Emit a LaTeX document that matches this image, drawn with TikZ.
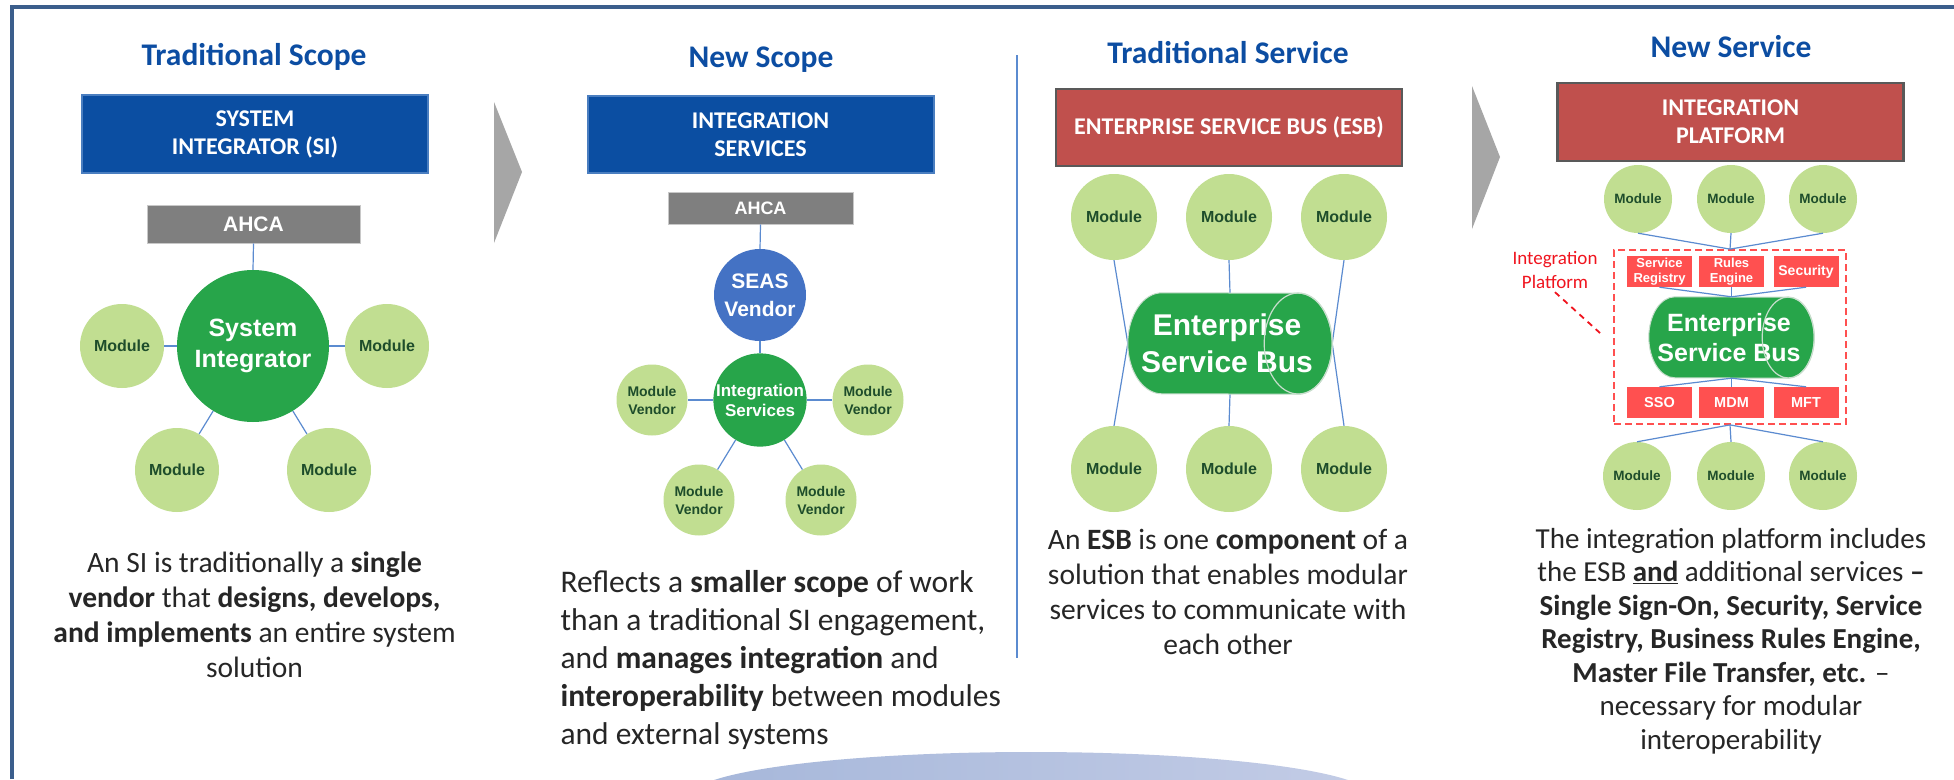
\documentclass[tikz,border=0pt]{standalone}
\usepackage{fontspec}
\setmainfont{Carlito}
\newfontfamily\arialfont{Liberation Sans}
\usepackage{xcolor}
\usepackage{tikz}
\usetikzlibrary{shapes,arrows,positioning,calc,arrows.meta}

\definecolor{framecol}{RGB}{59,94,140}
\definecolor{titleblue}{RGB}{12,77,162}
\definecolor{scopeblue}{RGB}{11,78,162}
\definecolor{scopeedge}{RGB}{74,126,192}
\definecolor{ahcagray}{RGB}{127,127,127}
\definecolor{ahcaedge}{RGB}{200,200,200}
\definecolor{hubgreen}{RGB}{39,165,74}
\definecolor{modgreen}{RGB}{193,222,145}
\definecolor{modtext}{RGB}{30,77,43}
\definecolor{seasblue}{RGB}{68,114,196}
\definecolor{esbred}{RGB}{192,80,77}
\definecolor{esbedge}{RGB}{89,89,89}
\definecolor{ipred}{RGB}{255,80,80}
\definecolor{labelred}{RGB}{240,20,30}
\definecolor{linkblue}{RGB}{91,139,208}
\definecolor{busedge}{RGB}{200,222,205}
\definecolor{desctext}{RGB}{38,38,38}
\definecolor{chevron}{RGB}{166,166,166}
\definecolor{arcleft}{RGB}{166,183,218}
\definecolor{arcright}{RGB}{195,204,230}

\begin{document}
\begin{tikzpicture}[x=1pt,y=-1pt,
    title/.style={font=\fontsize{31.5}{36}\selectfont\bfseries, text=titleblue},
    bluehead/.style={fill=scopeblue, draw=scopeedge, line width=2pt, text=white, align=center,
        font=\fontsize{24}{28}\selectfont\bfseries, minimum width=346pt, minimum height=78pt, inner sep=0pt},
    redhead/.style={bluehead, fill=esbred, draw=esbedge, line width=2.5pt},
    ahca/.style={fill=ahcagray, draw=ahcaedge, line width=1pt, text=white, inner sep=0pt,
        font=\arialfont\bfseries\fontsize{21}{24}\selectfont, minimum width=213pt, minimum height=38pt},
    module/.style={circle, fill=modgreen, text=modtext, align=center, inner sep=0pt,
        font=\arialfont\bfseries\fontsize{16}{18}\selectfont, minimum size=84pt},
    hub/.style={circle, fill=hubgreen, text=white, align=center, inner sep=0pt},
    busspot/.style={rectangle, inner sep=0pt},
    busbody/.style={fill=hubgreen, draw=busedge, line width=1pt},
    busend/.style={draw=busedge, line width=1.2pt},
    bustext/.style={text=white, align=center, font=\arialfont\bfseries\fontsize{30}{37}\selectfont},
    ipbox/.style={fill=ipred, text=white, align=center, inner sep=0pt,
        font=\arialfont\bfseries\fontsize{13}{15}\selectfont, minimum width=65pt, minimum height=31pt},
    link/.style={draw=linkblue, line width=1.2pt},
    desc/.style={text=desctext, align=center, font=\fontsize{29.5}{35}\selectfont}]

    \useasboundingbox (0,0) rectangle (1954,779);
    \fill[white] (0,0) rectangle (1954,779);

    % Arc at the bottom
    \begin{scope}
        \clip (0,0) rectangle (1954,779);
        \shade[left color=arcleft, right color=arcright] (1031,796) ellipse (340 and 44);
    \end{scope}

    % Frame
    \draw[framecol, line width=4.5pt] (12,779) -- (12,7) -- (1954,7);

    % Traditional Scope
    \node[title] (tstitle) at (254,57) {Traditional Scope};
    \node[bluehead] (sihead) at (255,134) {SYSTEM\\INTEGRATOR (SI)};
    \node[ahca] (ahcaA) at (253.5,224) {AHCA};
    \node[hub, minimum size=152pt, font=\arialfont\bfseries\fontsize{25}{31}\selectfont] (si) at (253,346) {System\\Integrator};
    \node[module] (simodW) at (122,346) {Module};
    \node[module] (simodE) at (387,346) {Module};
    \node[module] (simodSW) at (177,470) {Module};
    \node[module] (simodSE) at (329,470) {Module};
    \draw[link] (ahcaA.south) -- (si.north);
    \draw[link] (si) -- (simodW);
    \draw[link] (si) -- (simodE);
    \draw[link] (si) -- (simodSW);
    \draw[link] (si) -- (simodSE);
    \node[desc] (sidesc) at (254.5,615) {An SI is traditionally a \textbf{single}\\
        \textbf{vendor} that \textbf{designs, develops,}\\
        \textbf{and implements} an entire system\\
        solution};

    % Chevrons
    \fill[chevron] (494,102) -- (522,172) -- (494,243) -- cycle;
    \fill[chevron] (1472,86) -- (1500,157) -- (1472,229) -- cycle;

    % New Scope
    \node[title] (nstitle) at (761,60) {New Scope};
    \node[bluehead, minimum height=77pt] (ishead) at (760.5,134.5) {INTEGRATION\\SERVICES};
    \node[ahca, minimum width=185pt, minimum height=32pt, font=\arialfont\bfseries\fontsize{18}{20}\selectfont] (ahcaB) at (760.5,208) {AHCA};
    \node[hub, fill=seasblue, minimum size=92pt, font=\arialfont\bfseries\fontsize{21}{28}\selectfont] (seas) at (760,295) {SEAS\\Vendor};
    \node[hub, minimum size=92pt, font=\arialfont\bfseries\fontsize{17}{20}\selectfont] (intsvc) at (760,400) {Integration\\Services};
    \node[module, minimum size=71pt, font=\arialfont\bfseries\fontsize{14}{18}\selectfont] (mvW) at (652,400) {Module\\Vendor};
    \node[module, minimum size=71pt, font=\arialfont\bfseries\fontsize{14}{18}\selectfont] (mvE) at (868,400) {Module\\Vendor};
    \node[module, minimum size=71pt, font=\arialfont\bfseries\fontsize{14}{18}\selectfont] (mvSW) at (699,500) {Module\\Vendor};
    \node[module, minimum size=71pt, font=\arialfont\bfseries\fontsize{14}{18}\selectfont] (mvSE) at (821,500) {Module\\Vendor};
    \draw[link] (ahcaB.south) -- (seas.north);
    \draw[link] (seas.south) -- (intsvc.north);
    \draw[link] (intsvc) -- (mvW);
    \draw[link] (intsvc) -- (mvE);
    \draw[link] (intsvc) -- (mvSW);
    \draw[link] (intsvc) -- (mvSE);
    \node[desc, align=left, anchor=west, font=\fontsize{31.5}{38}\selectfont] (isdesc) at (557,660)
        {Reflects a \textbf{smaller scope} of work\\
        than a traditional SI engagement,\\
        and \textbf{manages integration} and\\
        \textbf{interoperability} between modules\\
        and external systems};

    % Separator
    \draw[linkblue, line width=2.5pt] (1017,55) -- (1017,658);

    % Traditional Service
    \node[title] (tvtitle) at (1228,53) {Traditional Service};
    \node[redhead, minimum height=77pt] (esbhead) at (1229,127.5) {ENTERPRISE SERVICE BUS (ESB)};
    \node[module, minimum size=86pt] (tmodA) at (1114,217) {Module};
    \node[module, minimum size=86pt] (tmodB) at (1229,217) {Module};
    \node[module, minimum size=86pt] (tmodC) at (1344,217) {Module};
    \node[module, minimum size=86pt] (bmodA) at (1114,469) {Module};
    \node[module, minimum size=86pt] (bmodB) at (1229,469) {Module};
    \node[module, minimum size=86pt] (bmodC) at (1344,469) {Module};
    \node[busspot, minimum width=204pt, minimum height=101pt] (esb) at (1230,343.5) {};
    \draw[link] (tmodA.south) -- (esb.west) -- (bmodA.north);
    \draw[link] (tmodB.south) -- (esb.north);
    \draw[link] (esb.south) -- (bmodB.north);
    \draw[link] (tmodC.south) -- (esb.east) -- (bmodC.north);
    \filldraw[busbody] ($(esb.north west)+(34,0)$) arc[start angle=-90, end angle=-270, x radius=34, y radius=50.5]
        -- ($(esb.south east)+(-34,0)$) arc[start angle=90, end angle=-90, x radius=34, y radius=50.5] -- cycle;
    \node[bustext] (esbtext) at (1227,343.5) {Enterprise\\Service Bus};
    \draw[busend] ($(esb.east)+(-34,0)$) ellipse [x radius=34, y radius=50.5];
    \node[desc] (esbdesc) at (1228,592) {An \textbf{ESB} is one \textbf{component} of a\\
        solution that enables modular\\
        services to communicate with\\
        each other};

    % New Service
    \node[title] (nvtitle) at (1731,47) {New Service};
    \node[redhead] (iphead) at (1730.5,122) {INTEGRATION\\PLATFORM};
    \node[module, minimum size=68pt, font=\arialfont\bfseries\fontsize{13.5}{16}\selectfont] (nmodA) at (1638,199) {Module};
    \node[module, minimum size=68pt, font=\arialfont\bfseries\fontsize{13.5}{16}\selectfont] (nmodB) at (1731,199) {Module};
    \node[module, minimum size=68pt, font=\arialfont\bfseries\fontsize{13.5}{16}\selectfont] (nmodC) at (1823,199) {Module};
    \node[draw=ipred, line width=1.8pt, dash pattern=on 7pt off 4pt, minimum width=232pt, minimum height=174pt] (ipframe) at (1730,337) {};
    \node[ipbox] (svcreg) at (1659.5,271.5) {Service\\Registry};
    \node[ipbox] (rules) at (1731.5,271.5) {Rules\\Engine};
    \node[ipbox, font=\arialfont\bfseries\fontsize{14}{16}\selectfont] (secur) at (1806,271.5) {Security};
    \node[ipbox, font=\arialfont\bfseries\fontsize{14.5}{16}\selectfont] (sso) at (1659.5,402.5) {SSO};
    \node[ipbox, font=\arialfont\bfseries\fontsize{14.5}{16}\selectfont] (mdm) at (1731.5,402.5) {MDM};
    \node[ipbox, font=\arialfont\bfseries\fontsize{14.5}{16}\selectfont] (mft) at (1806,402.5) {MFT};
    \node[busspot, minimum width=165pt, minimum height=81pt] (esbB) at (1731.5,337.5) {};
    \filldraw[busbody] ($(esbB.north west)+(26,0)$) arc[start angle=-90, end angle=-270, x radius=26, y radius=40.5]
        -- ($(esbB.south east)+(-26,0)$) arc[start angle=90, end angle=-90, x radius=26, y radius=40.5] -- cycle;
    \node[bustext, font=\arialfont\bfseries\fontsize{25}{30}\selectfont] (esbBtext) at (1729,337.5) {Enterprise\\Service Bus};
    \draw[busend] ($(esbB.east)+(-26,0)$) ellipse [x radius=26, y radius=40.5];
    \node[module, minimum size=68pt, font=\arialfont\bfseries\fontsize{13.5}{16}\selectfont] (nmodD) at (1637,476) {Module};
    \node[module, minimum size=68pt, font=\arialfont\bfseries\fontsize{13.5}{16}\selectfont] (nmodE) at (1731,476) {Module};
    \node[module, minimum size=68pt, font=\arialfont\bfseries\fontsize{13.5}{16}\selectfont] (nmodF) at (1823,476) {Module};
    \draw[link] (nmodA.south) -- (ipframe.north);
    \draw[link] (nmodB.south) -- (ipframe.north);
    \draw[link] (nmodC.south) -- (ipframe.north);
    \draw[link] (svcreg.south) -- (esbB.north);
    \draw[link] (rules.south) -- (esbB.north);
    \draw[link] (secur.south) -- (esbB.north);
    \draw[link] (esbB.south) -- (sso.north);
    \draw[link] (esbB.south) -- (mdm.north);
    \draw[link] (esbB.south) -- (mft.north);
    \draw[link] (ipframe.south) -- (nmodD.north);
    \draw[link] (ipframe.south) -- (nmodE.north);
    \draw[link] (ipframe.south) -- (nmodF.north);
    \node[text=labelred, align=center, font=\fontsize{19}{24}\selectfont] (iplabel) at (1555,270) {Integration\\Platform};
    \coordinate (iptip) at (1600,333);
    \draw[labelred, line width=1.8pt, dash pattern=on 6pt off 5pt] (iplabel.south) -- (iptip);
    \node[desc, font=\fontsize{29}{33.5}\selectfont] (ipdesc) at (1731,641) {The integration platform includes\\
        the ESB \underline{\textbf{and}} additional services \textbf{--}\\
        \textbf{Single Sign-On, Security, Service}\\
        \textbf{Registry, Business Rules Engine,}\\
        \textbf{Master File Transfer, etc.} --\\
        necessary for modular\\
        interoperability};
\end{tikzpicture}
\end{document}
